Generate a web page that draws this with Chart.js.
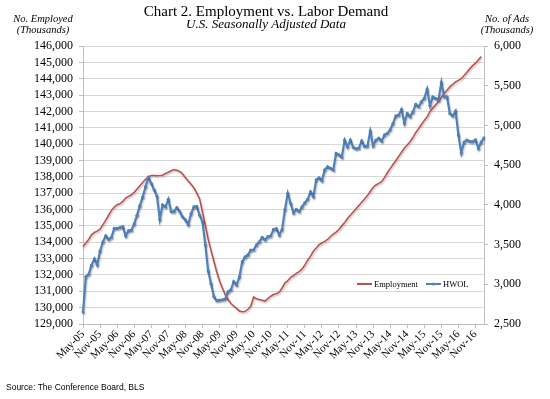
<!DOCTYPE html>
<html>
<head>
<meta charset="utf-8">
<script src="https://cdn.jsdelivr.net/npm/chart.js@4.4.0/dist/chart.umd.min.js"></script>
<style>
  html, body { margin: 0; padding: 0; background: #fff; }
  #wrap { width: 550px; height: 399px; }
</style>
</head>
<body>
<div id="wrap"><canvas id="chart" width="550" height="399"></canvas></div>
<script>
// months, May-05 .. Feb-17
const months = [
  'May-05','Jun-05','Jul-05','Aug-05','Sep-05','Oct-05','Nov-05','Dec-05',
  'Jan-06','Feb-06','Mar-06','Apr-06','May-06','Jun-06','Jul-06','Aug-06','Sep-06','Oct-06','Nov-06','Dec-06',
  'Jan-07','Feb-07','Mar-07','Apr-07','May-07','Jun-07','Jul-07','Aug-07','Sep-07','Oct-07','Nov-07','Dec-07',
  'Jan-08','Feb-08','Mar-08','Apr-08','May-08','Jun-08','Jul-08','Aug-08','Sep-08','Oct-08','Nov-08','Dec-08',
  'Jan-09','Feb-09','Mar-09','Apr-09','May-09','Jun-09','Jul-09','Aug-09','Sep-09','Oct-09','Nov-09','Dec-09',
  'Jan-10','Feb-10','Mar-10','Apr-10','May-10','Jun-10','Jul-10','Aug-10','Sep-10','Oct-10','Nov-10','Dec-10',
  'Jan-11','Feb-11','Mar-11','Apr-11','May-11','Jun-11','Jul-11','Aug-11','Sep-11','Oct-11','Nov-11','Dec-11',
  'Jan-12','Feb-12','Mar-12','Apr-12','May-12','Jun-12','Jul-12','Aug-12','Sep-12','Oct-12','Nov-12','Dec-12',
  'Jan-13','Feb-13','Mar-13','Apr-13','May-13','Jun-13','Jul-13','Aug-13','Sep-13','Oct-13','Nov-13','Dec-13',
  'Jan-14','Feb-14','Mar-14','Apr-14','May-14','Jun-14','Jul-14','Aug-14','Sep-14','Oct-14','Nov-14','Dec-14',
  'Jan-15','Feb-15','Mar-15','Apr-15','May-15','Jun-15','Jul-15','Aug-15','Sep-15','Oct-15','Nov-15','Dec-15',
  'Jan-16','Feb-16','Mar-16','Apr-16','May-16','Jun-16','Jul-16','Aug-16','Sep-16','Oct-16','Nov-16','Dec-16',
  'Jan-17','Feb-17'
];

// employment, thousands (left axis) - no value yet for Feb-17
const employment = [
  133720, 133950, 134170, 134450, 134600, 134680, 134800, 135080, 135350, 135650,
  135950, 136150, 136300, 136350, 136500, 136700, 136800, 136900, 137050, 137250,
  137450, 137650, 137850, 138000, 138080, 138080, 138070, 138080, 138100, 138200,
  138280, 138370, 138440, 138400, 138330, 138180, 137950, 137750, 137550, 137320,
  137000, 136650, 135850, 135050, 134200, 133500, 132850, 132200, 131650, 131200,
  130800, 130500, 130250, 130100, 129950, 129800, 129750, 129760, 129900, 130100,
  130650, 130550, 130500, 130450, 130400, 130550, 130700, 130800, 130850, 130950,
  131200, 131500, 131650, 131850, 131950, 132100, 132200, 132350, 132600, 132900,
  133150, 133450, 133650, 133850, 133950, 134050, 134170, 134350, 134500, 134620,
  134780, 135000, 135200, 135450, 135650, 135850, 136050, 136250, 136450, 136650,
  136850, 137100, 137350, 137500, 137600, 137700, 137950, 138250, 138500, 138750,
  139000, 139250, 139500, 139750, 139950, 140150, 140400, 140700, 140950, 141200,
  141450, 141650, 142000, 142200, 142400, 142600, 142850, 143100, 143300, 143500,
  143650, 143800, 143900, 144000, 144200, 144400, 144600, 144800, 144950, 145150,
  145350, null
];

// help wanted online ads, thousands (right axis)
const hwol = [
  2650, 3095, 3125, 3240, 3320, 3245, 3420, 3535, 3610, 3565,
  3590, 3705, 3705, 3715, 3725, 3610, 3675, 3680, 3760, 3870,
  3990, 4100, 4230, 4345, 4270, 4190, 4110, 3820, 4000, 3975,
  4070, 3915, 3915, 3965, 3915, 3850, 3810, 3750, 3890, 3975,
  3980, 3870, 3790, 3500, 3170, 3010, 2845, 2795, 2800, 2805,
  2815, 2905, 2930, 3035, 2990, 3095, 3285, 3345, 3370, 3430,
  3435, 3495, 3535, 3590, 3560, 3600, 3610, 3690, 3700, 3620,
  3690, 3940, 4145, 4020, 3900, 3945, 3915, 3975, 4025, 4070,
  4165, 4105, 4315, 4340, 4305, 4440, 4480, 4460, 4440, 4650,
  4630, 4600, 4815, 4730, 4815, 4725, 4705, 4715, 4805, 4735,
  4740, 4930, 4745, 4815, 4840, 4800, 4880, 4900, 4945, 5025,
  5120, 5130, 5200, 5030, 5150, 5110, 5170, 5265, 5235, 5300,
  5340, 5455, 5250, 5360, 5340, 5320, 5540, 5360, 5360, 5150,
  5120, 5180, 4880, 4655, 4790, 4815, 4800, 4795, 4820, 4710,
  4790, 4845
];

const leftTicks = { min: 129000, max: 146000, step: 1000 };
const rightTicks = { min: 2500, max: 6000, step: 500 };

const RED = '#C0504D';
const BLUE = '#4F81BD';
const SERIF = '"Liberation Serif", "DejaVu Serif", serif';
const fmt = v => Number(v).toLocaleString('en-US');

// light drop shadow under the lines, like the excel original
const shadow = {
  id: 'shadow',
  beforeDatasetDraw(chart) {
    const c = chart.ctx;
    c.save();
    c.shadowColor = 'rgba(0,0,0,0.22)';
    c.shadowBlur = 1.5;
    c.shadowOffsetX = 1;
    c.shadowOffsetY = 1.5;
  },
  afterDatasetDraw(chart) {
    chart.ctx.restore();
  }
};

// titles, axis captions, in-plot legend and source note
const decor = {
  id: 'decor',
  afterDraw(chart) {
    const c = chart.ctx;
    c.save();
    c.fillStyle = '#000';
    c.textBaseline = 'middle';
    c.textAlign = 'center';
    c.font = '15px ' + SERIF;
    c.fillText('Chart 2. Employment vs. Labor Demand', 266, 12);
    c.font = 'italic 13px ' + SERIF;
    c.fillText('U.S. Seasonally Adjusted Data', 266, 25);

    c.font = 'italic 10.5px ' + SERIF;
    c.fillText('No. Employed', 43, 19);
    c.fillText('(Thousands)', 43, 30);
    c.fillText('No. of Ads', 507, 19);
    c.fillText('(Thousands)', 507, 30);

    // legend box sits inside the plot
    c.fillStyle = '#fff';
    c.fillRect(347, 278, 132, 13);
    c.font = '8.5px ' + SERIF;
    c.textAlign = 'left';
    const ly = 284;
    const items = [
      { x: 357, ds: chart.data.datasets[0] },
      { x: 426, ds: chart.data.datasets[1] }
    ];
    items.forEach(it => {
      c.strokeStyle = it.ds.borderColor;
      c.lineWidth = 2;
      c.beginPath();
      c.moveTo(it.x, ly);
      c.lineTo(it.x + 15, ly);
      c.stroke();
      if (it.ds.pointRadius) {
        c.fillStyle = it.ds.borderColor;
        c.beginPath();
        c.arc(it.x + 7.5, ly, 1.5, 0, Math.PI * 2);
        c.fill();
      }
      c.fillStyle = '#000';
      c.fillText(it.ds.label, it.x + 17, ly + 0.5);
    });

    c.font = '8.5px "Liberation Sans", Arial, sans-serif';
    c.fillText('Source: The Conference Board, BLS', 6, 388);
    c.restore();
  }
};

new Chart(document.getElementById('chart'), {
  type: 'line',
  data: {
    labels: months,
    datasets: [
      {
        label: 'Employment',
        data: employment,
        yAxisID: 'y',
        borderColor: RED,
        backgroundColor: RED,
        borderWidth: 1.6,
        pointRadius: 0,
        tension: 0,
        order: 1
      },
      {
        label: 'HWOL',
        data: hwol,
        yAxisID: 'y1',
        borderColor: BLUE,
        backgroundColor: BLUE,
        borderWidth: 2.2,
        pointRadius: 1.6,
        pointHoverRadius: 1.6,
        pointBorderWidth: 0,
        tension: 0,
        order: 0
      }
    ]
  },
  options: {
    responsive: false,
    animation: false,
    devicePixelRatio: 1,
    layout: { padding: { top: 46, left: 0, right: 0, bottom: 0 } },
    plugins: {
      legend: { display: false },
      title: { display: false },
      tooltip: { enabled: false }
    },
    scales: {
      x: {
        type: 'category',
        offset: false,
        border: { color: '#BFBFBF' },
        grid: {
          drawOnChartArea: false,
          drawTicks: true,
          tickLength: 4,
          color: ctx => (ctx.index % 6 === 0 ? '#BFBFBF' : 'rgba(0,0,0,0)')
        },
        ticks: {
          autoSkip: false,
          minRotation: 45,
          maxRotation: 45,
          padding: 0,
          color: '#000',
          font: { family: SERIF, size: 11 },
          callback: (v, i) => (i % 6 === 0 ? months[i] : '')
        },
        afterFit: s => { s.height = 75; }
      },
      y: {
        position: 'left',
        min: leftTicks.min,
        max: leftTicks.max,
        border: { color: '#BFBFBF' },
        grid: { color: '#D9D9D9', tickColor: '#BFBFBF', tickLength: 4 },
        ticks: {
          autoSkip: false,
          stepSize: leftTicks.step,
          padding: 6,
          color: '#000',
          font: { family: SERIF, size: 12 },
          callback: v => fmt(v)
        },
        afterFit: s => { s.width = 83; }
      },
      y1: {
        position: 'right',
        min: rightTicks.min,
        max: rightTicks.max,
        border: { color: '#BFBFBF' },
        grid: { drawOnChartArea: false, color: '#BFBFBF', tickLength: 4 },
        ticks: {
          autoSkip: false,
          stepSize: rightTicks.step,
          padding: 6,
          color: '#000',
          font: { family: SERIF, size: 12 },
          callback: v => fmt(v)
        },
        afterFit: s => { s.width = 66; }
      }
    }
  },
  plugins: [shadow, decor]
});
</script>
</body>
</html>
